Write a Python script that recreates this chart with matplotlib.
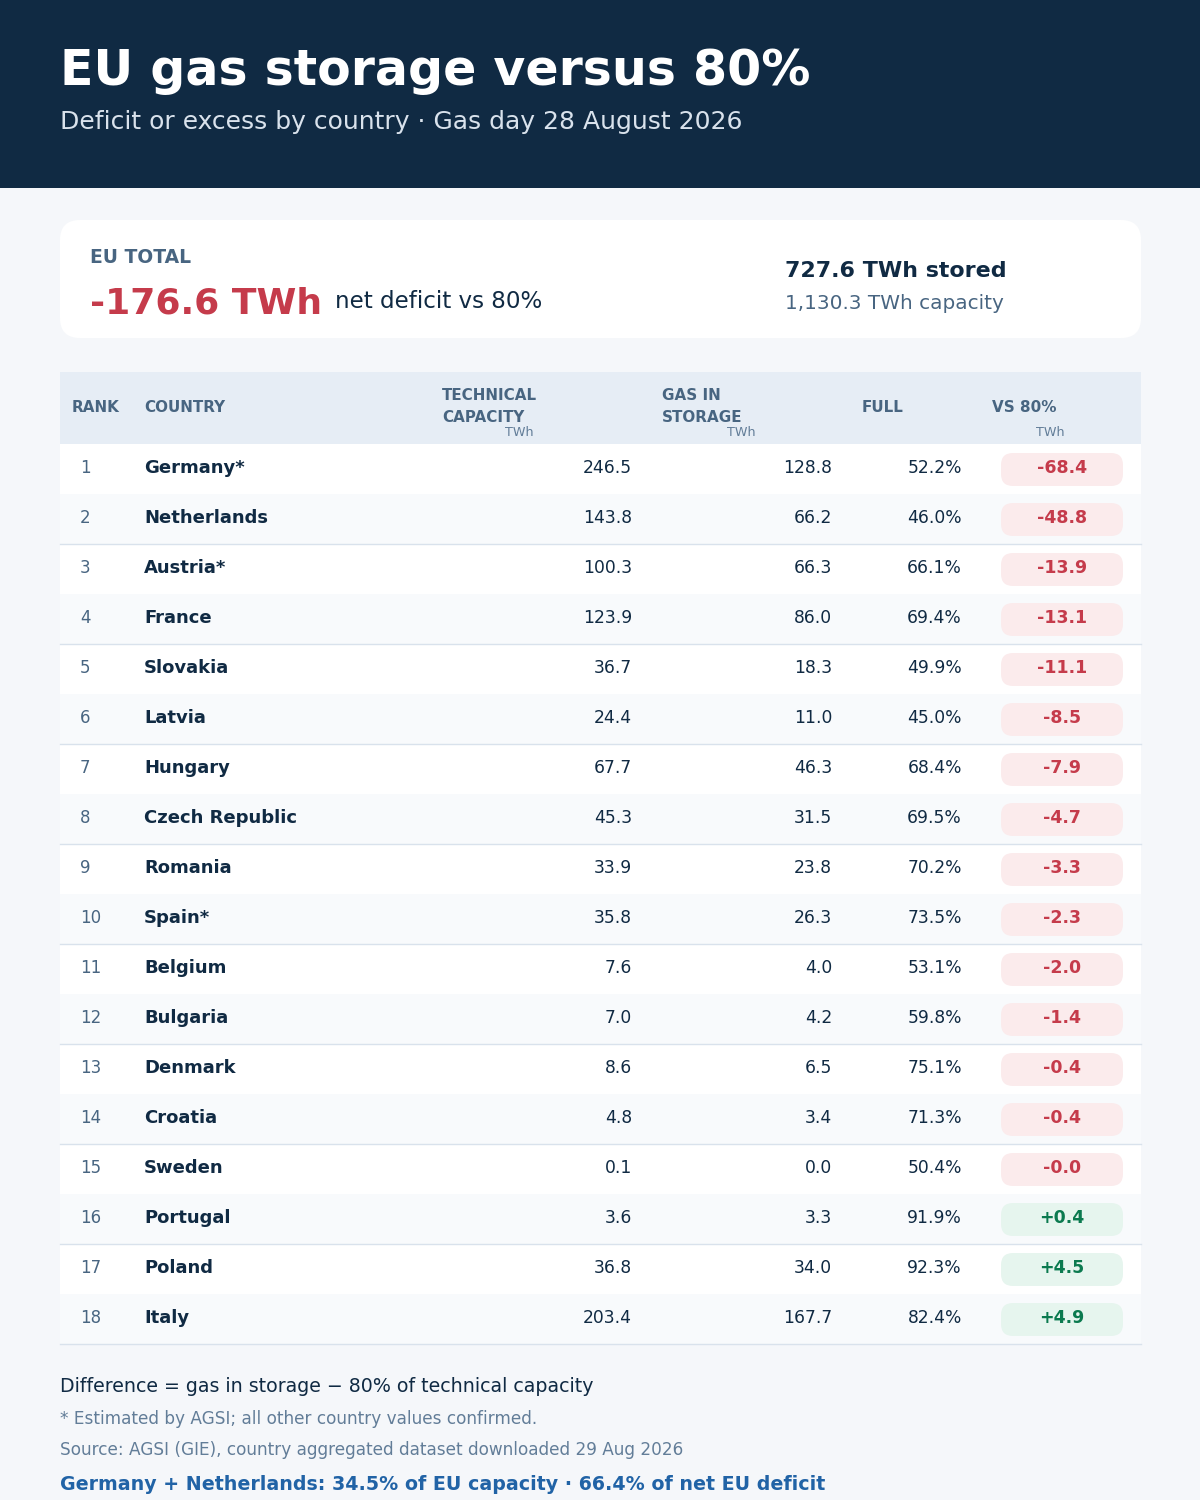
import matplotlib
matplotlib.use("Agg")
import matplotlib.pyplot as plt
from matplotlib.patches import FancyBboxPatch, Rectangle
import numpy as np

# ---- data ----
countries = ["Germany*", "Netherlands", "Austria*", "France", "Slovakia", "Latvia",
             "Hungary", "Czech Republic", "Romania", "Spain*", "Belgium", "Bulgaria",
             "Denmark", "Croatia", "Sweden", "Portugal", "Poland", "Italy"]
capacity = [246.5, 143.8, 100.3, 123.9, 36.7, 24.4, 67.7, 45.3, 33.9, 35.8,
            7.6, 7.0, 8.6, 4.8, 0.1, 3.6, 36.8, 203.4]
stored = [128.8, 66.2, 66.3, 86.0, 18.3, 11.0, 46.3, 31.5, 23.8, 26.3,
          4.0, 4.2, 6.5, 3.4, 0.0, 3.3, 34.0, 167.7]
full_pct = [52.2, 46.0, 66.1, 69.4, 49.9, 45.0, 68.4, 69.5, 70.2, 73.5,
            53.1, 59.8, 75.1, 71.3, 50.4, 91.9, 92.3, 82.4]
vs80 = [-68.4, -48.8, -13.9, -13.1, -11.1, -8.5, -7.9, -4.7, -3.3, -2.3,
        -2.0, -1.4, -0.4, -0.4, -0.0, 0.4, 4.5, 4.9]

eu_net = -176.6
eu_stored = 727.6
eu_capacity = 1130.3

# ---- colours ----
NAVY = "#102a43"
BG = "#f5f7fa"
SLATE = "#486581"
MUTED = "#627d98"
HEAD_BG = "#e6edf5"
ALT_BG = "#f8fafc"
RULE = "#d9e2ec"
RED = "#c53b4b"
RED_BG = "#fbebec"
GREEN = "#0b7a4f"
GREEN_BG = "#e6f5ee"
BLUE = "#2163a6"

plt.rcParams["font.family"] = ["DejaVu Sans"]

fig = plt.figure(figsize=(12, 15), dpi=100)
fig.patch.set_facecolor(BG)
ax = fig.add_axes([0, 0, 1, 1])
ax.set_xlim(0, 1200)
ax.set_ylim(1500, 0)
ax.axis("off")

# header banner
ax.add_patch(Rectangle((0, 0), 1200, 188, color=NAVY, lw=0))
ax.text(60, 85, "EU gas storage versus 80%", color="white", fontsize=35.3,
        fontweight="bold", va="baseline")
ax.text(60, 129, "Deficit or excess by country \u00b7 Gas day 28 August 2026",
        color="#d9e2ec", fontsize=18, va="baseline")

# EU total card
ax.add_patch(FancyBboxPatch((60, 220), 1081, 118,
                            boxstyle="round,pad=0,rounding_size=20",
                            fc="white", ec="none"))
ax.text(90, 263, "EU TOTAL", color=SLATE, fontsize=13.5, fontweight="bold",
        va="baseline")
ax.text(90, 313, f"{eu_net:.1f} TWh", color=RED, fontsize=26, fontweight="bold",
        va="baseline")
ax.text(335, 308, "net deficit vs 80%", color=NAVY, fontsize=16.6, va="baseline")
ax.text(785, 277, f"{eu_stored:.1f} TWh stored", color=NAVY, fontsize=15.9,
        fontweight="bold", va="baseline")
ax.text(785, 309, f"{eu_capacity:,.1f} TWh capacity", color=SLATE, fontsize=14.4,
        va="baseline")

# table header
ax.add_patch(Rectangle((60, 372), 1081, 72, color=HEAD_BG, lw=0))
hkw = dict(color=SLATE, fontsize=10.9, fontweight="bold", va="baseline")
ax.text(72, 412, "RANK", **hkw)
ax.text(144, 412, "COUNTRY", **hkw)
ax.text(442, 400, "TECHNICAL", **hkw)
ax.text(442, 422, "CAPACITY", **hkw)
ax.text(662, 400, "GAS IN", **hkw)
ax.text(662, 422, "STORAGE", **hkw)
ax.text(862, 412, "FULL", **hkw)
ax.text(992, 412, "VS 80%", **hkw)
ukw = dict(color=MUTED, fontsize=9.2, va="baseline", ha="right")
ax.text(534, 436, "TWh", **ukw)
ax.text(756, 436, "TWh", **ukw)
ax.text(1065, 436, "TWh", **ukw)

# rows
top0, row_h = 444, 50
for i, name in enumerate(countries):
    top = top0 + i * row_h
    if i % 2 == 1:
        ax.add_patch(Rectangle((60, top), 1081, row_h, color=ALT_BG, lw=0))
        ax.plot([60, 1141], [top + row_h, top + row_h], color=RULE, lw=1)
    else:
        ax.add_patch(Rectangle((60, top), 1081, row_h, color="white", lw=0))
    base = top + 29
    ax.text(80, base, str(i + 1), color=SLATE, fontsize=12, va="baseline")
    ax.text(144, base, name, color=NAVY, fontsize=13, fontweight="bold",
            va="baseline")
    ax.text(632, base, f"{capacity[i]:.1f}", color=NAVY, fontsize=12.3,
            ha="right", va="baseline")
    ax.text(832, base, f"{stored[i]:.1f}", color=NAVY, fontsize=12.3,
            ha="right", va="baseline")
    ax.text(962, base, f"{full_pct[i]:.1f}%", color=NAVY, fontsize=12.3,
            ha="right", va="baseline")
    neg = np.signbit(vs80[i])
    ax.add_patch(FancyBboxPatch((1001, top + 9), 122, 33,
                                boxstyle="round,pad=0,rounding_size=12",
                                fc=RED_BG if neg else GREEN_BG, ec="none"))
    ax.text(1062, base, f"{vs80[i]:+.1f}", color=RED if neg else GREEN,
            fontsize=12.5, fontweight="bold", ha="center", va="baseline")

# footer notes
ax.text(60, 1392, "Difference = gas in storage \u2212 80% of technical capacity",
        color=NAVY, fontsize=13.7, va="baseline")
ax.text(60, 1424, "* Estimated by AGSI; all other country values confirmed.",
        color=MUTED, fontsize=12.2, va="baseline")
ax.text(60, 1455, "Source: AGSI (GIE), country aggregated dataset downloaded 29 Aug 2026",
        color=MUTED, fontsize=12.2, va="baseline")
ax.text(60, 1490, "Germany + Netherlands: 34.5% of EU capacity \u00b7 66.4% of net EU deficit",
        color=BLUE, fontsize=13.7, fontweight="bold", va="baseline")

fig.savefig("out.png", dpi=100, facecolor=BG)
